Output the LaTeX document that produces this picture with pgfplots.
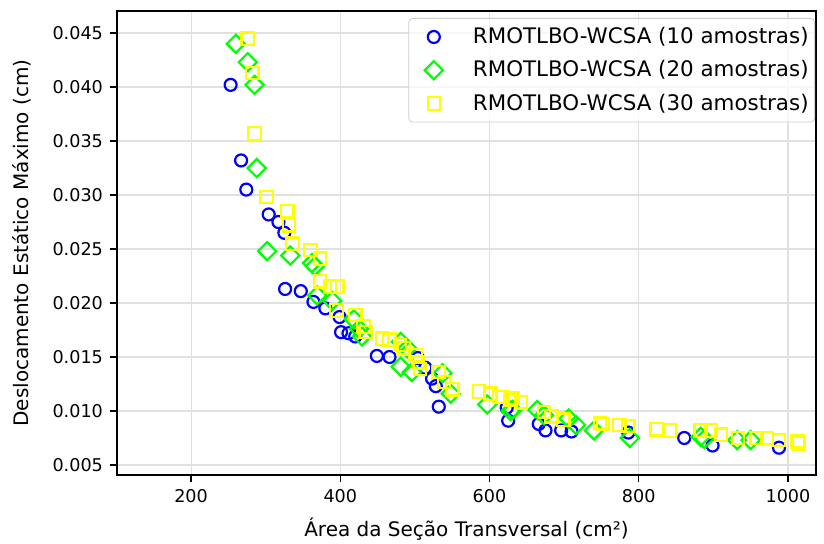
\documentclass[border=0pt]{standalone}
\usepackage{fontspec}
\setmainfont{DejaVu Sans}
\usepackage{pgfplots}
\pgfplotsset{compat=1.18}

\definecolor{mblue}{RGB}{0,0,255}
\definecolor{mgreen}{RGB}{0,255,0}
\definecolor{myellow}{RGB}{255,255,0}

\begin{document}
\begin{tikzpicture}
\begin{axis}[
  scale only axis,
  width=349.5pt, height=232pt,
  xmin=100.7, xmax=1037.6,
  ymin=0.00407, ymax=0.04704,
  xtick={200,400,600,800,1000},
  ytick={0.005,0.010,0.015,0.020,0.025,0.030,0.035,0.040,0.045},
  scaled y ticks=false,
  yticklabel style={/pgf/number format/.cd, fixed, fixed zerofill, precision=3},
  xticklabel style={/pgf/number format/1000 sep={}},
  /pgf/number format/assume math mode=true,
  tick label style={font=\fontsize{8.8}{10}\selectfont},
  xlabel style={font=\fontsize{10}{12}\selectfont, at={(axis description cs:0.5,-0.117)}, anchor=center},
  ylabel style={font=\fontsize{10}{12}\selectfont, at={(axis description cs:-0.136,0.5)}, anchor=center},
  tick align=outside, xtick pos=bottom, ytick pos=left,
  major tick length=3.5pt,
  axis line style={line width=0.65pt},
  tick style={line width=0.65pt, black},
  grid=major, grid style={black!12, line width=0.55pt},
  xlabel={Área da Seção Transversal (cm²)},
  ylabel={Deslocamento Estático Máximo (cm)},
  legend cell align=left,
  legend image code/.code={\draw[#1] plot coordinates {(10.5pt,0pt)}; \path (0pt,0pt) (28pt,0pt);},
  legend style={at={(1,0.985)}, xshift=-0.5pt, anchor=north east, draw=black!20,
    rounded corners=2pt, fill=white, fill opacity=0.8, text opacity=1,
    font=\fontsize{10.7}{12}\selectfont, row sep=4pt,
    inner xsep=1.5pt, inner ysep=3pt, nodes={inner xsep=1.5pt, inner ysep=1.5pt}},
]

% 10 amostras
\addplot[only marks, mark=o, mark size=3.0pt, mblue, line width=1.1pt, mark options={line width=1.1pt}] coordinates {
(253,0.0402) (267,0.0332) (274,0.0305) (304,0.0282) (317,0.0275) (325,0.0265)
(326,0.0213) (347,0.0211) (364,0.0201) (380,0.0195) (399,0.0187) (401,0.0173)
(411,0.0172) (420,0.0169) (449,0.0151) (466,0.0150) (504,0.0149) (514,0.0140)
(523,0.0130) (528,0.0123) (532,0.0104) (623,0.0103) (625,0.0091) (666,0.0088)
(675,0.0082) (696,0.0082) (710,0.0081) (786,0.0080) (861,0.0075) (899,0.0068)
(988,0.0066)
};

% 20 amostras
\addplot[only marks, mark=square, mark size=3.2pt, mark options={rotate=45, line width=1.1pt}, mgreen, line width=1.1pt] coordinates {
(260,0.0440) (276,0.0423) (285,0.0402) (288,0.0325) (302,0.0248) (333,0.0244)
(362,0.0237) (366,0.0234) (369,0.0207) (389,0.0202) (418,0.0185) (425,0.0176)
(429,0.0169) (481,0.0164) (490,0.0158) (481,0.0141) (496,0.0136) (537,0.0135)
(548,0.0116) (597,0.0106) (628,0.0100) (631,0.0101) (664,0.0101) (673,0.0096)
(706,0.0093) (716,0.0087) (740,0.0082) (788,0.0075) (883,0.0076) (888,0.0074)
(932,0.0073) (950,0.0073)
};

% 30 amostras
\addplot[only marks, mark=square, mark size=3.1pt, myellow, line width=1.1pt, mark options={line width=1.1pt}] coordinates {
(276,0.0445) (282,0.0413) (285,0.0357) (301,0.0298) (329,0.0285) (331,0.0272)
(336,0.0255) (360,0.0249) (373,0.0241) (373,0.0220) (386,0.0215) (396,0.0215)
(395,0.0193) (420,0.0189) (431,0.0178) (434,0.0173) (456,0.0167) (466,0.0166)
(480,0.0161) (485,0.0158) (501,0.0152) (504,0.0145) (507,0.0139) (532,0.0136)
(539,0.0127) (550,0.0120) (586,0.0118) (601,0.0116) (613,0.0113) (617,0.0113)
(628,0.0110) (631,0.0112) (642,0.0108) (673,0.0099) (683,0.0095) (699,0.0092)
(748,0.0089) (752,0.0088) (774,0.0087) (786,0.0086) (824,0.0083) (842,0.0082)
(883,0.0082) (897,0.0082) (910,0.0078) (933,0.0075) (958,0.0075) (972,0.0075)
(988,0.0073) (1013,0.0072) (1015,0.0070)
};

\legend{RMOTLBO-WCSA (10 amostras), RMOTLBO-WCSA (20 amostras), RMOTLBO-WCSA (30 amostras)}
\end{axis}
\pgfresetboundingbox
\path ([xshift=-58.5pt,yshift=-34pt]current axis.south west) rectangle ([xshift=4pt,yshift=5.5pt]current axis.north east);
\end{tikzpicture}
\end{document}
